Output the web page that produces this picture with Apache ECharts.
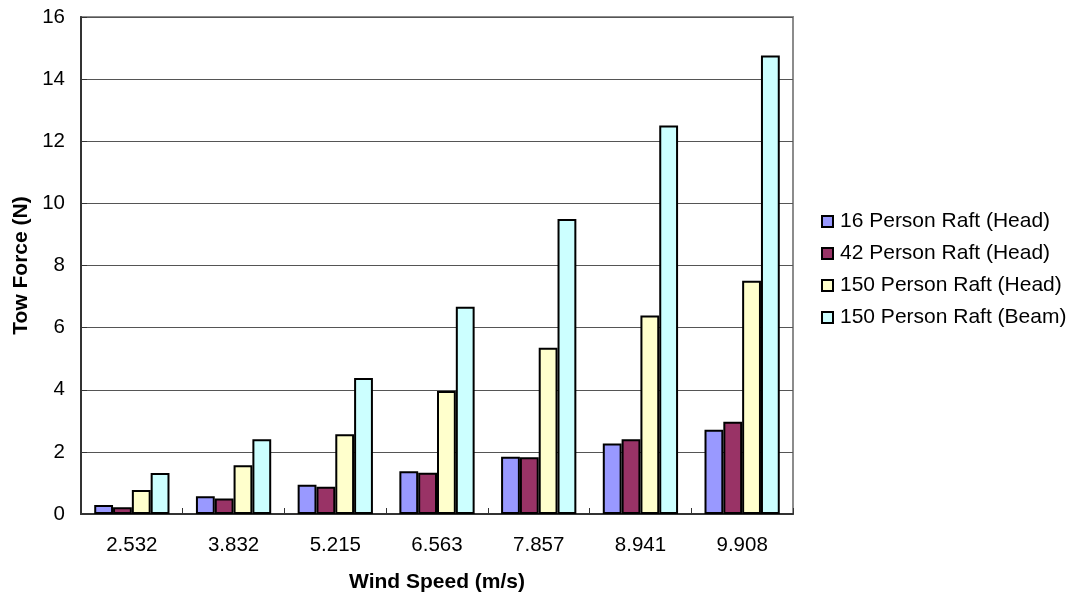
<!DOCTYPE html>
<html>
<head>
<meta charset="utf-8">
<script src="https://cdn.jsdelivr.net/npm/echarts@6/dist/echarts.min.js"></script>
<style>
html,body{margin:0;padding:0;background:#fff;}
#c{width:1075px;height:597px;}
</style>
</head>
<body>
<div id="c"></div>
<script>
const categories = ['2.532', '3.832', '5.215', '6.563', '7.857', '8.941', '9.908'];
const seriesNames = ['16 Person Raft (Head)', '42 Person Raft (Head)', '150 Person Raft (Head)', '150 Person Raft (Beam)'];
const raft16Head = [0.29, 0.57, 0.94, 1.38, 1.84, 2.27, 2.71];
const raft42Head = [0.22, 0.50, 0.88, 1.33, 1.83, 2.41, 2.97];
const raft150Head = [0.77, 1.57, 2.57, 3.96, 5.35, 6.39, 7.51];
const raft150Beam = [1.32, 2.41, 4.38, 6.67, 9.50, 12.51, 14.76];
const yTicks = [0, 2, 4, 6, 8, 10, 12, 14, 16];

const colors = ['#9999FF', '#993366', '#FFFFCC', '#CCFFFF'];
const values = [raft16Head, raft42Head, raft150Head, raft150Beam];

const chart = echarts.init(document.getElementById('c'));
const fontFam = '"Liberation Sans", Arial, sans-serif';
chart.setOption({
  animation: false,
  backgroundColor: '#fff',
  grid: {
    left: 81, right: 282, top: 17, bottom: 83,
    outerBoundsMode: 'none',
    containLabel: false,
    show: true, borderColor: '#8c8c8c', borderWidth: 2, backgroundColor: 'transparent'
  },
  legend: {
    orient: 'vertical',
    left: 821, top: 211,
    padding: 0,
    itemWidth: 11, itemHeight: 11, itemGap: 11,
    icon: 'rect',
    itemStyle: { borderColor: '#000', borderWidth: 2 },
    textStyle: { fontFamily: fontFam, fontSize: 21, color: '#000', lineHeight: 21, padding: [0, 0, 0, 2] },
    data: seriesNames
  },
  xAxis: {
    type: 'category',
    data: categories,
    name: 'Wind Speed (m/s)',
    nameLocation: 'middle',
    nameGap: 58,
    nameTextStyle: { fontFamily: fontFam, fontSize: 21, fontWeight: 'bold', color: '#000' },
    axisLine: { lineStyle: { color: '#333', width: 2 } },
    axisTick: { show: true, inside: true, length: 6, lineStyle: { color: '#333', width: 1 } },
    axisLabel: { fontFamily: fontFam, fontSize: 20.5, color: '#000', margin: 21 },
    splitLine: { show: false }
  },
  yAxis: {
    type: 'value',
    min: yTicks[0], max: yTicks[yTicks.length - 1], interval: 2,
    name: 'Tow Force (N)',
    nameLocation: 'middle',
    nameGap: 49,
    nameRotate: 90,
    nameTextStyle: { fontFamily: fontFam, fontSize: 21, fontWeight: 'bold', color: '#000' },
    axisLine: { show: true, lineStyle: { color: '#333', width: 2 } },
    axisTick: { show: true, inside: true, length: 6, lineStyle: { color: '#333', width: 1 } },
    axisLabel: { fontFamily: fontFam, fontSize: 20.5, color: '#000', margin: 16 },
    splitLine: { show: true, lineStyle: { color: '#555', width: 1 } }
  },
  series: seriesNames.map((n, i) => ({
    name: n,
    type: 'bar',
    data: values[i],
    barGap: '0%',
    barCategoryGap: '26%',
    itemStyle: { color: colors[i], borderColor: '#000', borderWidth: 2 }
  }))
});
</script>
</body>
</html>
